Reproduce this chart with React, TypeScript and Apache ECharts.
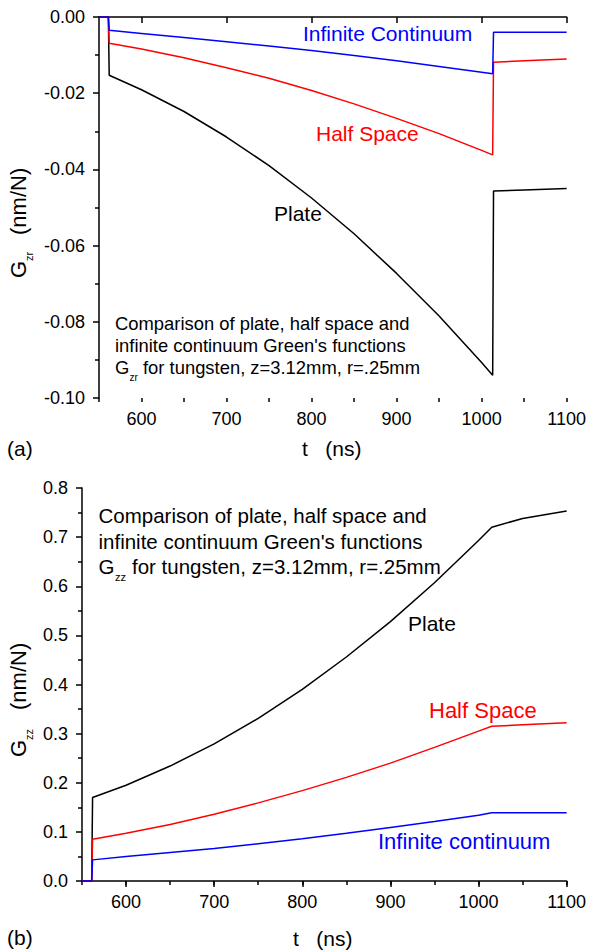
import { useEffect, useRef } from 'react'
import * as echarts from 'echarts'

// (a) G_zr, times in ns
const tA = [550, 561, 562, 600, 650, 700, 750, 800, 850, 900, 950, 1000, 1013, 1014, 1050, 1100]
const plateA = [0, 0, -0.0153, -0.0191, -0.0248, -0.0315, -0.039, -0.0475, -0.0569, -0.0673, -0.0785, -0.0907, -0.094, -0.0457, -0.0454, -0.045]
const halfA = [0, 0, -0.0069, -0.0084, -0.0107, -0.0133, -0.0161, -0.0193, -0.0228, -0.0266, -0.0306, -0.035, -0.0362, -0.0119, -0.0115, -0.011]
const infA = [0, 0, -0.0035, -0.0043, -0.0054, -0.0065, -0.0076, -0.0088, -0.0101, -0.0115, -0.013, -0.0145, -0.0149, -0.004, -0.004, -0.004]

// (b) G_zz
const tB = [550, 561, 562, 600, 650, 700, 750, 800, 850, 900, 950, 1000, 1015, 1050, 1100]
const plateB = [0, 0, 0.17, 0.195, 0.234, 0.279, 0.331, 0.39, 0.456, 0.528, 0.607, 0.693, 0.72, 0.738, 0.753]
const halfB = [0, 0, 0.085, 0.097, 0.115, 0.136, 0.159, 0.184, 0.211, 0.24, 0.272, 0.305, 0.315, 0.318, 0.322]
const infB = [0, 0, 0.043, 0.05, 0.058, 0.066, 0.076, 0.086, 0.097, 0.109, 0.121, 0.134, 0.139, 0.139, 0.139]

const xTicks = [600, 700, 800, 900, 1000, 1100]

const FONT = '"Liberation Sans", Arial, sans-serif'

const txt = (text: string, x: number, y: number, size: number, color = '#000') => ({
  type: 'text',
  x,
  y,
  style: {
    text,
    fill: color,
    font: `${size}px ${FONT}`,
    align: 'left',
    verticalAlign: 'middle',
  },
})

const axisLine = { show: true, lineStyle: { color: '#000', width: 1.5 } }

function xAxes(gridIndex: number) {
  return [
    {
      type: 'value',
      gridIndex,
      position: 'bottom',
      min: 550,
      max: 1100,
      axisLine,
      axisTick: { show: true, length: 6, customValues: xTicks, lineStyle: { color: '#000', width: 1.5 } },
      axisLabel: {
        customValues: xTicks,
        fontSize: 18,
        color: '#000',
        fontFamily: FONT,
        margin: 12,
        formatter: (v: number) => String(v),
      },
      splitLine: { show: false },
    },
    {
      // minor ticks every 50 ns
      type: 'value',
      gridIndex,
      position: 'bottom',
      min: 550,
      max: 1100,
      interval: 50,
      axisLine: { show: false },
      axisTick: { show: true, length: 4, lineStyle: { color: '#000', width: 1.5 } },
      axisLabel: { show: false },
      splitLine: { show: false },
    },
  ]
}

function line(name: string, t: number[], v: number[], color: string, xAxisIndex: number, yAxisIndex: number) {
  return {
    type: 'line',
    name,
    xAxisIndex,
    yAxisIndex,
    data: t.map((x, i) => [x, v[i]]),
    showSymbol: false,
    clip: false,
    lineStyle: { color, width: 1.5 },
    itemStyle: { color },
  }
}

export default function App() {
  const ref = useRef<HTMLDivElement>(null)

  useEffect(() => {
    if (!ref.current) return
    const chart = echarts.init(ref.current, null, { renderer: 'svg' })

    const option = {
      animation: false,
      textStyle: { fontFamily: FONT },
      grid: [
        { left: 99, top: 17, width: 469, height: 381 },
        { left: 82, top: 488, width: 485, height: 393 },
      ],
      xAxis: [...xAxes(0), ...xAxes(1)],
      yAxis: [
        {
          type: 'value',
          gridIndex: 0,
          min: -0.1,
          max: 0,
          interval: 0.02,
          axisLine,
          axisTick: { show: true, length: 6, lineStyle: { color: '#000', width: 1.5 } },
          minorTick: { show: true, splitNumber: 2, length: 4, lineStyle: { color: '#000', width: 1.5 } },
          axisLabel: {
            fontSize: 18,
            color: '#000',
            fontFamily: FONT,
            margin: 14,
            formatter: (v: number) => (Math.abs(v) < 1e-9 ? '0.00' : v.toFixed(2)),
          },
          splitLine: { show: false },
        },
        {
          type: 'value',
          gridIndex: 1,
          min: 0,
          max: 0.8,
          interval: 0.1,
          axisLine,
          axisTick: { show: true, length: 6, lineStyle: { color: '#000', width: 1.5 } },
          minorTick: { show: true, splitNumber: 2, length: 4, lineStyle: { color: '#000', width: 1.5 } },
          axisLabel: {
            fontSize: 18,
            color: '#000',
            fontFamily: FONT,
            margin: 14,
            formatter: (v: number) => v.toFixed(1),
          },
          splitLine: { show: false },
        },
      ],
      series: [
        line('Plate', tA, plateA, '#000000', 0, 0),
        line('Half Space', tA, halfA, '#ff0000', 0, 0),
        line('Infinite Continuum', tA, infA, '#0000ff', 0, 0),
        line('Plate', tB, plateB, '#000000', 2, 1),
        line('Half Space', tB, halfB, '#ff0000', 2, 1),
        line('Infinite continuum', tB, infB, '#0000ff', 2, 1),
      ],
      graphic: [
        // panel (a)
        txt('Infinite Continuum', 303, 33, 21, '#0000ff'),
        txt('Half Space', 316, 133, 21, '#ff0000'),
        txt('Plate', 274, 213, 21),
        txt('Comparison of plate, half space and', 115, 323, 18.4),
        txt("infinite continuum Green's functions", 115, 345, 18.4),
        txt('G', 115, 367, 18.4),
        txt('zr', 129.5, 377, 10),
        txt('for tungsten, z=3.12mm, r=.25mm', 143, 367, 18.4),
        txt('t   (ns)', 302, 448, 21),
        txt('(a)', 7, 448, 21),
        {
          type: 'group',
          x: 18,
          y: 278,
          rotation: Math.PI / 2,
          children: [txt('G', 0, 0, 22), txt('zr', 17, 11, 11), txt('(nm/N)', 43, 0, 22)],
        },
        // panel (b)
        txt('Comparison of plate, half space and', 98.5, 515, 20.5),
        txt("infinite continuum Green's functions", 98.5, 541, 20.5),
        txt('G', 98.5, 566, 20.5),
        txt('zz', 115, 577, 11),
        txt('for tungsten, z=3.12mm, r=.25mm', 132, 566, 20.5),
        txt('Plate', 408, 623, 21),
        txt('Half Space', 429, 710, 22, '#ff0000'),
        txt('Infinite continuum', 378, 841, 22, '#0000ff'),
        txt('t   (ns)', 293, 938, 21),
        txt('(b)', 7, 937, 21),
        {
          type: 'group',
          x: 18,
          y: 757,
          rotation: Math.PI / 2,
          children: [txt('G', 0, 0, 22), txt('zz', 17, 11, 11), txt('(nm/N)', 47, 0, 22)],
        },
      ],
    }

    chart.setOption(option as any)
    return () => {
      chart.dispose()
    }
  }, [])

  return (
    <div
      ref={ref}
      style={{ position: 'absolute', left: 0, top: 0, width: 589, height: 952, background: '#fff' }}
    />
  )
}
